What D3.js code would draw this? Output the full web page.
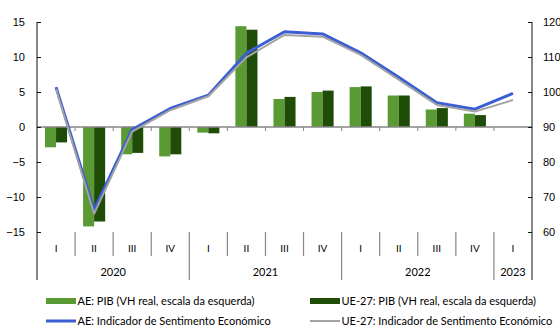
<!DOCTYPE html>
<html>
<head>
<meta charset="utf-8">
<script src="https://cdn.jsdelivr.net/npm/d3@7"></script>
<style>
  html, body { margin: 0; padding: 0; background: #fff; }
  svg { display: block; font-family: Lato, "Liberation Sans", sans-serif; }
</style>
</head>
<body>
<svg id="chart" width="560" height="331"></svg>
<script>
// Quarters and years on the category axis
const quarters = ["I","II","III","IV","I","II","III","IV","I","II","III","IV","I"];
const years = [
  { label: "2020", start: 0, end: 4 },
  { label: "2021", start: 4, end: 8 },
  { label: "2022", start: 8, end: 12 },
  { label: "2023", start: 12, end: 13 }
];

// GDP, real year-on-year change (%), left scale
const gdpAE = [-2.9, -14.2, -3.9, -4.2, -0.8, 14.4, 4.0, 5.0, 5.7, 4.5, 2.5, 1.9, null];
const gdpEU = [-2.2, -13.5, -3.7, -3.9, -0.9, 13.9, 4.3, 5.2, 5.8, 4.5, 2.7, 1.7, null];

// Economic Sentiment Indicator, right scale
const esiAE = [101.4, 66.3, 89.3, 95.3, 99.1, 111.1, 117.2, 116.6, 111.2, 104.2, 96.9, 95.1, 99.6];
const esiEU = [100.9, 65.2, 88.7, 94.8, 98.8, 109.9, 116.3, 115.8, 110.6, 103.5, 96.3, 94.4, 97.7];

const leftTicks = [-15, -10, -5, 0, 5, 10, 15];
const rightTicks = [60, 70, 80, 90, 100, 110, 120];

const colors = {
  gdpAE: "#5a9a34",
  gdpEU: "#1f4d08",
  esiAE: "#3b5fd3",
  esiEU: "#a3a3a3",
  axis: "#111",
  grid: "#868686"
};

const svg = d3.select("#chart");
const plot = { left: 37, right: 532, top: 22, bottom: 232 };

const idx = d3.range(quarters.length);
const x = d3.scaleBand().domain(idx).range([plot.left, plot.right]).padding(0);
const bw = x.bandwidth();
const xs = d3.scaleBand().domain(["AE", "EU"]).range([bw * 0.21, bw * 0.79]).padding(0);

const yL = d3.scaleLinear().domain([-15, 15]).range([plot.bottom, plot.top]);
const yR = d3.scaleLinear().domain([60, 120]).range([plot.bottom, plot.top]);

const font = 11;

// Bars
const barData = [];
idx.forEach(i => {
  if (gdpAE[i] != null) barData.push({ i, s: "AE", v: gdpAE[i], c: colors.gdpAE });
  if (gdpEU[i] != null) barData.push({ i, s: "EU", v: gdpEU[i], c: colors.gdpEU });
});
svg.append("g").selectAll("rect").data(barData).join("rect")
  .attr("x", d => x(d.i) + xs(d.s))
  .attr("width", xs.bandwidth())
  .attr("y", d => Math.min(yL(d.v), yL(0)))
  .attr("height", d => Math.abs(yL(d.v) - yL(0)))
  .attr("fill", d => d.c);

// Zero line with category tick marks
const zero = svg.append("g");
zero.append("line")
  .attr("x1", plot.left).attr("x2", plot.right)
  .attr("y1", yL(0)).attr("y2", yL(0))
  .attr("stroke", colors.grid).attr("stroke-width", 1.3);
zero.selectAll("line.t").data(d3.range(1, quarters.length)).join("line")
  .attr("class", "t")
  .attr("x1", i => x(i)).attr("x2", i => x(i))
  .attr("y1", yL(0)).attr("y2", yL(0) + 4)
  .attr("stroke", colors.grid).attr("stroke-width", 1);

// Left axis
const gL = svg.append("g").attr("transform", `translate(${plot.left},0)`)
  .call(d3.axisLeft(yL).tickValues(leftTicks).tickSizeInner(-4).tickSizeOuter(0).tickPadding(12));
gL.select(".domain").remove();
gL.selectAll(".tick line").attr("stroke", colors.axis);
gL.selectAll(".tick text").attr("font-size", font).attr("fill", "#000").attr("font-family", null);
svg.append("line")
  .attr("x1", plot.left).attr("x2", plot.left)
  .attr("y1", plot.top).attr("y2", 280)
  .attr("stroke", colors.axis);

// Right axis
const gR = svg.append("g").attr("transform", `translate(${plot.right},0)`)
  .call(d3.axisRight(yR).tickValues(rightTicks).tickSizeInner(-4).tickSizeOuter(0).tickPadding(11));
gR.select(".domain").remove();
gR.selectAll(".tick line").attr("stroke", colors.axis);
gR.selectAll(".tick text").attr("font-size", font).attr("fill", "#000").attr("font-family", null);
svg.append("line")
  .attr("x1", plot.right).attr("x2", plot.right)
  .attr("y1", plot.top).attr("y2", 280)
  .attr("stroke", colors.axis);

// Multi-level category axis
const cat = svg.append("g");
cat.selectAll("line.q").data(d3.range(1, quarters.length)).join("line")
  .attr("class", "q")
  .attr("x1", i => x(i)).attr("x2", i => x(i))
  .attr("y1", plot.bottom).attr("y2", i => (i % 4 === 0 ? 280 : 256))
  .attr("stroke", colors.grid).attr("stroke-width", 1.2);
cat.selectAll("text.q").data(idx).join("text")
  .attr("class", "q")
  .attr("x", i => x(i) + bw / 2)
  .attr("y", 248)
  .attr("dy", "0.35em")
  .attr("text-anchor", "middle")
  .attr("font-size", 10)
  .text(i => quarters[i]);
cat.selectAll("text.y").data(years).join("text")
  .attr("class", "y")
  .attr("x", d => (x(d.start) + (d.end < quarters.length ? x(d.end) : plot.right)) / 2)
  .attr("y", 272)
  .attr("dy", "0.35em")
  .attr("text-anchor", "middle")
  .attr("font-size", font)
  .text(d => d.label);

// Sentiment lines
const lineR = data => d3.line()
  .x((d, i) => x(i) + bw / 2)
  .y(d => yR(d))(data);
svg.append("path").attr("d", lineR(esiAE))
  .attr("fill", "none").attr("stroke", colors.esiAE).attr("stroke-width", 3)
  .attr("stroke-linejoin", "round");
svg.append("path").attr("d", lineR(esiEU))
  .attr("fill", "none").attr("stroke", colors.esiEU).attr("stroke-width", 2)
  .attr("stroke-linejoin", "round");

// Legend
const legend = [
  { type: "rect", c: colors.gdpAE, label: "AE:  PIB (VH real, escala da esquerda)", x: 46, y: 301 },
  { type: "rect", c: colors.gdpEU, label: "UE-27: PIB (VH real, escala da esquerda)", x: 310, y: 301 },
  { type: "line", c: colors.esiAE, w: 3, label: "AE: Indicador de Sentimento Económico", x: 46, y: 321 },
  { type: "line", c: colors.esiEU, w: 2, label: "UE-27: Indicador de Sentimento Económico", x: 310, y: 321 }
];
const lg = svg.append("g").selectAll("g").data(legend).join("g")
  .attr("transform", d => `translate(${d.x},${d.y})`);
lg.filter(d => d.type === "rect").append("rect")
  .attr("x", 0).attr("y", -3).attr("width", 30).attr("height", 6)
  .attr("fill", d => d.c);
lg.filter(d => d.type === "line").append("line")
  .attr("x1", 0).attr("x2", 30).attr("y1", 0).attr("y2", 0)
  .attr("stroke", d => d.c).attr("stroke-width", d => d.w);
lg.append("text")
  .attr("x", 31.5).attr("y", 0).attr("dy", "0.35em")
  .attr("font-size", font)
  .text(d => d.label);
</script>
</body>
</html>
